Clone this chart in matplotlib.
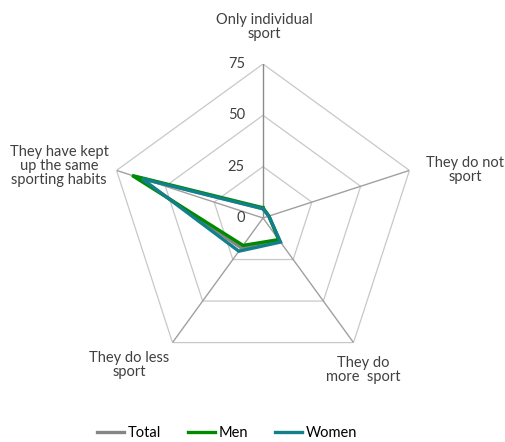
import numpy as np
import matplotlib.pyplot as plt

categories = ["Only individual\nsport", "They do not\nsport", "They do\nmore  sport",
              "They do less\nsport", "They have kept\nup the same\nsporting habits"]
total = [4.5, 3, 14, 18, 64]
men = [5, 3, 13, 16.5, 67]
women = [4.5, 3, 14.5, 20, 62]
rticks = [0, 25, 50, 75]

# label anchor points in figure pixels (x, y from top)
label_pos = [(264, 27), (465, 170), (363, 370), (129, 365), (59, 166)]

W, H = 505, 442
fig = plt.figure(figsize=(W / 100, H / 100), dpi=100)
cx, cy, R = 263, 218, 154
ax = fig.add_axes([(cx - R) / W, (H - cy - R) / H, 2 * R / W, 2 * R / H], projection="polar")
ax.set_theta_offset(np.pi / 2)
ax.set_theta_direction(-1)
ax.set_ylim(0, 75)
ax.grid(False)
ax.spines["polar"].set_visible(False)
ax.set_xticks([])
ax.set_yticks([])
ax.patch.set_visible(False)

n = len(categories)
theta = np.linspace(0, 2 * np.pi, n, endpoint=False)
closed = np.append(theta, theta[0])

# pentagon gridlines
for r in rticks[1:]:
    ax.plot(closed, [r] * (n + 1), color="#c8c8c8", lw=0.9, zorder=1)
# spokes
for i, t in enumerate(theta):
    ax.plot([t, t], [0, 75], color="#8c8c8c" if i == 0 else "#a0a0a0", lw=1.0, zorder=1)

# value labels along the top spoke
for r in rticks:
    ax.annotate(str(r), xy=(0, r), xytext=(-13, 0), textcoords="offset points",
                ha="right", va="center", fontsize=10.5, color="#404040", family="Lato")

series = [("Total", total, "#858585"), ("Men", men, "#008a00"), ("Women", women, "#12808a")]
for name, vals, col in series:
    ax.plot(closed, vals + vals[:1], color=col, lw=2.4, label=name, zorder=3,
            solid_joinstyle="miter")

for text, (px, py) in zip(categories, label_pos):
    fig.text(px / W, 1 - py / H, text, ha="center", va="center", fontsize=10.5,
             color="#404040", family="Lato", linespacing=1.0)

fig.legend(loc="center", bbox_to_anchor=(0.449, 0.02), ncol=3, frameon=False,
           handlelength=1.9, handletextpad=0.2, columnspacing=1.85,
           prop={"family": "Lato", "size": 10.5})

fig.savefig("out.png", dpi=100)
